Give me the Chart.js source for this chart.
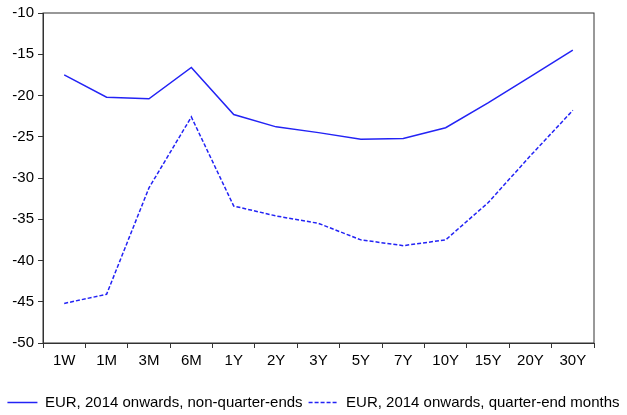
<!DOCTYPE html>
<html>
<head>
<meta charset="utf-8">
<script src="https://cdn.jsdelivr.net/npm/chart.js@4"></script>
<style>
  html, body { margin: 0; padding: 0; background: #fff; }
  #wrap { width: 627px; height: 415px; }
</style>
</head>
<body>
<div id="wrap"><canvas id="chart"></canvas></div>
<script>
const tenors = ["1W", "1M", "3M", "6M", "1Y", "2Y", "3Y", "5Y", "7Y", "10Y", "15Y", "20Y", "30Y"];
const nonQuarterEnds = [-17.5, -20.2, -20.4, -16.6, -22.3, -23.8, -24.5, -25.3, -25.2, -23.9, -20.9, -17.7, -14.5];
const quarterEndMonths = [-45.2, -44.1, -31.2, -22.6, -33.4, -34.6, -35.5, -37.5, -38.2, -37.5, -33.0, -27.3, -21.8];
const yTicks = [-10, -15, -20, -25, -30, -35, -40, -45, -50];

const LINE = "#2323f5";
const AXIS = "#333333";

Chart.defaults.font.family = "'Liberation Sans', Arial, sans-serif";
Chart.defaults.font.size = 15;
Chart.defaults.color = "#000";

const frame = {
  id: "frame",
  afterDraw(chart) {
    const { ctx, chartArea } = chart;
    ctx.save();
    ctx.strokeStyle = AXIS;
    ctx.lineWidth = 1;
    ctx.strokeRect(chartArea.left, chartArea.top, chartArea.right - chartArea.left, chartArea.bottom - chartArea.top);
    ctx.restore();
  },
};

new Chart(document.getElementById("chart"), {
  type: "line",
  data: {
    labels: tenors,
    datasets: [
      {
        label: "EUR, 2014 onwards, non-quarter-ends",
        data: nonQuarterEnds,
        borderColor: LINE,
        backgroundColor: LINE,
        borderWidth: 1.5,
        pointRadius: 0,
        tension: 0,
      },
      {
        label: "EUR, 2014 onwards, quarter-end months",
        data: quarterEndMonths,
        borderColor: LINE,
        backgroundColor: LINE,
        borderWidth: 1.5,
        borderDash: [4, 2],
        pointRadius: 0,
        tension: 0,
      },
    ],
  },
  options: {
    responsive: true,
    maintainAspectRatio: false,
    animation: false,
    layout: { padding: { top: 12, right: 0, left: 0, bottom: -5 } },
    plugins: {
      tooltip: { enabled: false },
      legend: {
        position: "bottom",
        labels: {
          usePointStyle: true,
          pointStyle: "line",
          pointStyleWidth: 30,
          boxHeight: 1,
          padding: 6,
          color: "#000",
          generateLabels(chart) {
            const items = Chart.defaults.plugins.legend.labels.generateLabels(chart);
            items.forEach((item) => {
              const ds = chart.data.datasets[item.datasetIndex];
              item.lineDash = ds.borderDash || [];
              item.lineWidth = 1.5;
            });
            return items;
          },
        },
      },
    },
    scales: {
      x: {
        offset: true,
        grid: {
          offset: true,
          drawOnChartArea: false,
          drawTicks: true,
          tickLength: 5,
          color: AXIS,
        },
        border: { display: true, color: AXIS },
        ticks: { padding: 4, maxRotation: 0, autoSkip: false },
        afterFit(scale) {
          scale.height = 46;
        },
      },
      y: {
        min: -50,
        max: -10,
        afterBuildTicks(scale) {
          scale.ticks = yTicks.map((v) => ({ value: v }));
        },
        grid: {
          drawOnChartArea: false,
          drawTicks: true,
          tickLength: 5,
          color: AXIS,
        },
        border: { display: true, color: AXIS },
        ticks: { padding: 4 },
        afterFit(scale) {
          scale.width = 43;
        },
      },
      yRight: {
        position: "right",
        display: true,
        grid: { display: false },
        border: { display: false },
        ticks: { display: false },
        afterFit(scale) {
          scale.width = 33;
        },
      },
    },
  },
  plugins: [frame],
});
</script>
</body>
</html>
